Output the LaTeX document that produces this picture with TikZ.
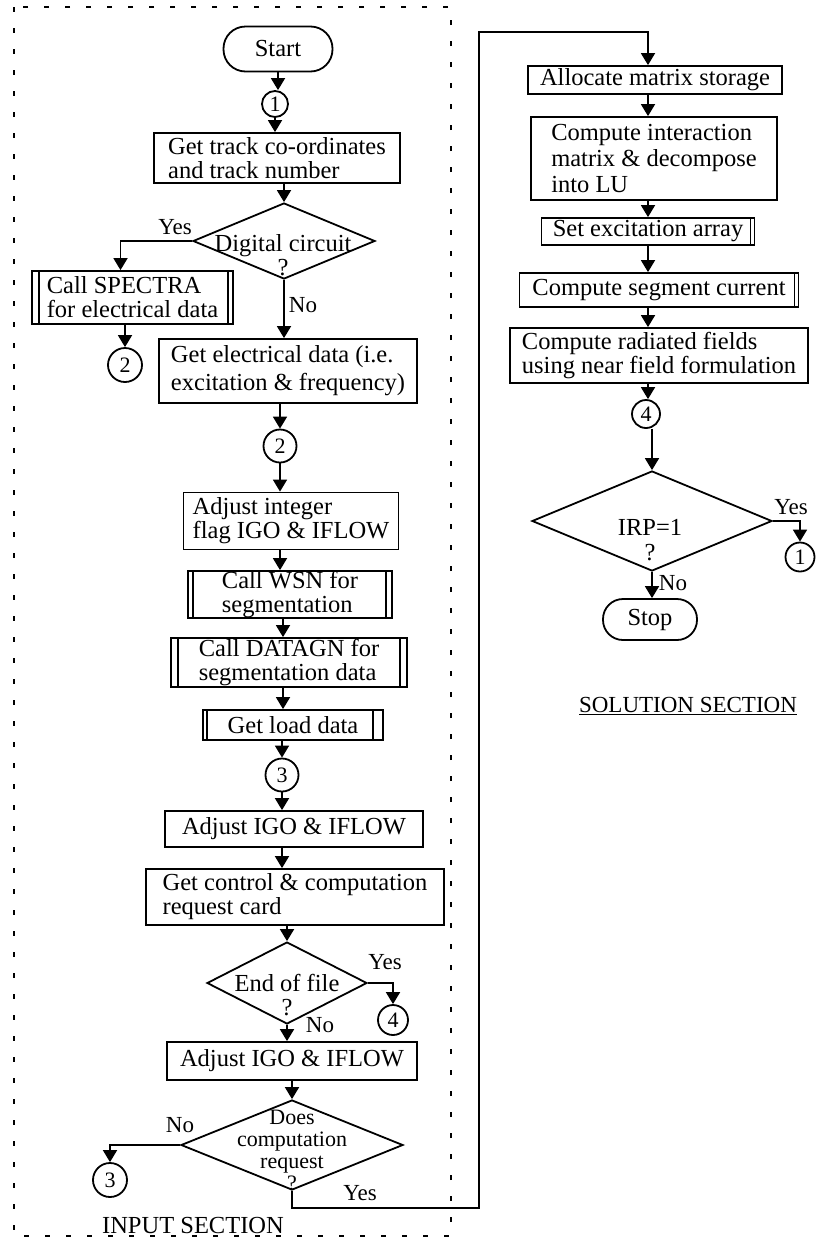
\documentclass[tikz,border=0pt]{standalone}
\usepackage{fontspec}
\setmainfont{Liberation Serif}
\usetikzlibrary{arrows.meta,shapes.geometric,calc}

\tikzset{
  every node/.style={font=\fontsize{24.5}{24}\selectfont, inner sep=0pt},
  lsp/.style={font=\fontsize{24.5}{#1}\selectfont},
  box/.style={draw, line width=1.8pt, rectangle, align=left},
  bars/.style n args={2}{path picture={
      \draw[line width=1.8pt] ([xshift=#1]path picture bounding box.north west) -- ([xshift=#1]path picture bounding box.south west);
      \draw[line width=1.8pt] ([xshift=-#2]path picture bounding box.north east) -- ([xshift=-#2]path picture bounding box.south east);}},
  term/.style={draw, line width=1.8pt, rectangle, rounded corners=#1},
  dia/.style={draw, diamond, line width=1.8pt, inner sep=0pt},
  conn/.style={draw, circle, line width=1.8pt, minimum size=#1, font=\fontsize{22}{22}\selectfont},
  qtext/.style={align=center},
  lbl/.style={font=\fontsize{23}{23}\selectfont},
  arr/.style={line width=1.8pt, -{Triangle[width=14pt,length=12pt]}},
  frame/.style={line width=1.4pt, dash pattern=on 5pt off 16pt},
}

\begin{document}
\begin{tikzpicture}[x=1pt,y=-1pt]
\fill[white] (0,0) rectangle (815,1240);
\useasboundingbox (0,0) rectangle (815,1240);

% input section frame
\draw[frame] (14,7) rectangle (451,1236);

% ---------- input section ----------
\node[term=22pt, minimum width=109, minimum height=45] (start) at (278,49) {Start};
\node[conn=26] (c1) at (275,104) {1};
\node[box, lsp=24, minimum width=246, minimum height=50] (track) at (277,158)
  {Get track co-ordinates\\ and track number};
\node[dia, minimum width=182, minimum height=76] (dig) at (284,241) {};
\node[qtext, lsp=24] (digt) at (283,255) {Digital circuit\\?};
\node[box, bars={7pt}{5pt}, lsp=24, minimum width=201, minimum height=53] (spectra) at (132.5,297.5)
  {Call SPECTRA\\for electrical data};
\node[conn=34] (c2a) at (125,365) {2};
\node[box, lsp=28, minimum width=258, minimum height=64] (elec) at (288,371)
  {Get electrical data (i.e.\\excitation \& frequency)};
\node[conn=33] (c2b) at (280,446) {2};
\node[box, lsp=24, minimum width=215, minimum height=57] (adj1) at (291,521)
  {Adjust integer\\flag IGO \& IFLOW};
\node[box, bars={5pt}{6pt}, lsp=24, minimum width=204, minimum height=47] (wsn) at (290,594.5)
  {Call WSN for\\segmentation};
\node[box, bars={7pt}{7pt}, lsp=24, minimum width=236, minimum height=49] (datagn) at (289,662.5)
  {Call DATAGN for\\segmentation data};
\node[box, bars={4pt}{10pt}, minimum width=180, minimum height=30] (load) at (293,725) {Get load data};
\node[conn=33] (c3) at (282,775) {3};
\node[box, minimum width=258, minimum height=36] (adj2) at (294,829) {Adjust IGO \& IFLOW};
\node[box, lsp=24, minimum width=298, minimum height=56] (ctrl) at (295,897)
  {Get control \& computation\\request card};
\node[dia, minimum width=160, minimum height=82] (eof) at (287,983) {};
\node[qtext, lsp=24] (eoft) at (287,995) {End of file\\?};
\node[conn=30] (c4a) at (393,1020) {4};
\node[box, minimum width=250, minimum height=38] (adj3) at (292,1061) {Adjust IGO \& IFLOW};
\node[dia, minimum width=222, minimum height=90] (req) at (292,1145) {};
\node[qtext, font=\fontsize{22}{22}\selectfont] (reqt) at (292,1150) {Does\\computation\\request\\?};
\node[conn=34] (c3b) at (110,1180) {3};
\node (insec) at (193,1225) {INPUT SECTION};

% labels of the decisions
\node[lbl] (y1) at (175,227) {Yes};
\node[lbl] (n1) at (303,305) {No};
\node[lbl] (y2) at (385,962) {Yes};
\node[lbl] (n2) at (320,1025) {No};
\node[lbl] (n3) at (180,1125) {No};
\node[lbl] (y3) at (360,1193) {Yes};

% ---------- solution section ----------
\node[box, minimum width=254, minimum height=28] (alloc) at (655,80) {Allocate matrix storage};
\node[box, lsp=26, minimum width=246, minimum height=83] (inter) at (654,158.5)
  {Compute interaction\\matrix \& decompose\\into LU};
\node[box, bars={0pt}{4pt}, minimum width=213, minimum height=27] (exc) at (648,231.5) {Set excitation array};
\node[box, bars={0pt}{4pt}, minimum width=279, minimum height=34] (seg) at (659,290) {Compute segment current};
\node[box, lsp=24, minimum width=298, minimum height=55] (rad) at (659,355.5)
  {Compute radiated fields\\using near field formulation};
\node[conn=28] (c4b) at (646,414) {4};
\node[dia, minimum width=240, minimum height=100] (irp) at (652,521) {};
\node[qtext, lsp=25] (irpt) at (650,540) {IRP=1\\?};
\node[conn=29] (c1b) at (800,557) {1};
\node[term=20pt, minimum width=94, minimum height=41] (stop) at (650,619.5) {Stop};
\node[lbl] (y4) at (791,507) {Yes};
\node[lbl] (n4) at (673,583) {No};
\node[font=\fontsize{23}{23}\selectfont] (solsec) at (688,706) {\underline{SOLUTION SECTION}};

% ---------- connectors: input section ----------
\draw[arr] (start) -- (start.south |- c1.north);
\draw[arr] (c1) -- (c1 |- track.north);
\draw[arr] (track.south -| dig.north) -- (dig.north);
\draw[arr] (dig.west) -| ([xshift=-12pt]spectra.north);
\draw[arr] (dig.south) -- (dig.south |- elec.north);
\draw[arr] (spectra.south -| c2a) -- (c2a);
\draw[arr] (elec.south -| c2b) -- (c2b);
\draw[arr] (c2b) -- (c2b |- adj1.north);
\draw[arr] (adj1.south -| c2b) -- (c2b |- wsn.north);
\draw[arr] ([xshift=-7pt]wsn.south) -- ([xshift=-7pt]wsn.south |- datagn.north);
\draw[arr] ([xshift=-6pt]datagn.south) -- ([xshift=-6pt]datagn.south |- load.north);
\draw[arr] (load.south -| c3) -- (c3);
\draw[arr] (c3) -- (c3 |- adj2.north);
\draw[arr] (adj2.south -| c3) -- (c3 |- ctrl.north);
\draw[arr] (ctrl.south -| eof.north) -- (eof.north);
\draw[arr] (eof.east) -| (c4a);
\draw[arr] (eof.south) -- (eof.south |- adj3.north);
\draw[arr] (adj3.south -| req.north) -- (req.north);
\draw[arr] (req.west) -| (c3b);

% yes branch of the request test into the solution section
\coordinate (jb) at (479,1208);
\coordinate (jt) at (479,32);
\draw[arr] (req.south) |- (jb) -- (jt) -| ([xshift=-7pt]alloc.north);

% ---------- connectors: solution section ----------
\draw[arr] ([xshift=-7pt]alloc.south) -- ([xshift=-7pt]alloc.south |- inter.north);
\draw[arr] ([xshift=-6pt]inter.south) -- ([xshift=-6pt]inter.south |- exc.north);
\draw[arr] (exc.south) -- (exc.south |- seg.north);
\draw[arr] (seg.south -| exc.south) -- (exc.south |- rad.north);
\draw[arr] (rad.south -| exc.south) -- (exc.south |- c4b.north);
\draw[arr] (c4b.south -| irp.north) -- (irp.north);
\draw[arr] (irp.east) -| (c1b);
\draw[arr] (irp.south) -- (irp.south |- stop.north);
\end{tikzpicture}
\end{document}
